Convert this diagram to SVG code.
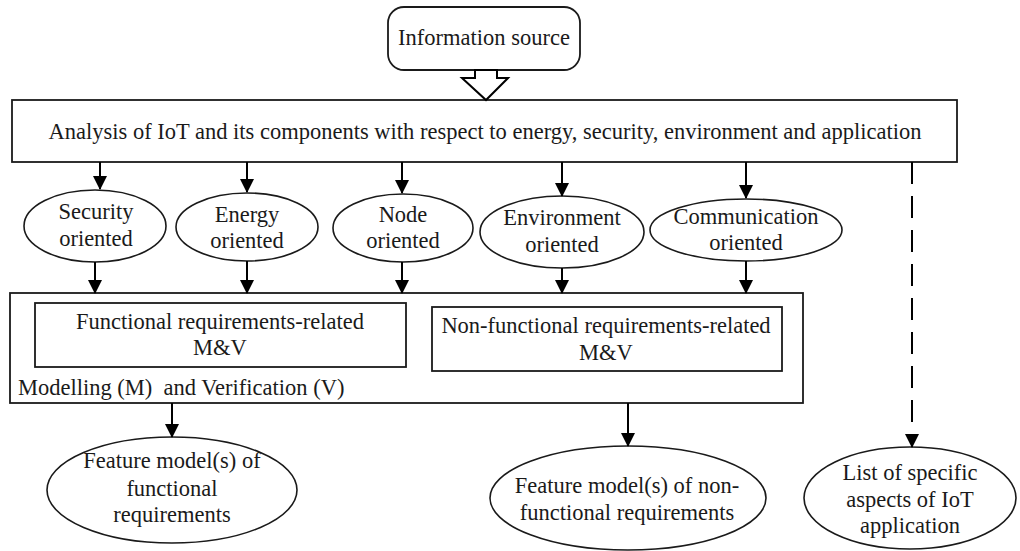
<svg xmlns="http://www.w3.org/2000/svg" width="1020" height="551" viewBox="0 0 1020 551">
  <defs>
    <style>
      .box { fill: #fff; stroke: #1a1a1a; stroke-width: 1.8; }
      .ell { fill: #fff; stroke: #1a1a1a; stroke-width: 1.6; }
      .t { font-family: "Liberation Serif", "Times New Roman", serif; font-size: 22.5px; fill: #1a1a1a; }
      .c { text-anchor: middle; }
      .pre { white-space: pre; }
      .link { stroke: #000; stroke-width: 2; fill: none; marker-end: url(#head); }
      .dash { stroke-dasharray: 22 12; }
    </style>
    <marker id="head" viewBox="0 0 14 14" refX="13" refY="7" markerWidth="14" markerHeight="14" markerUnits="userSpaceOnUse" orient="auto">
      <path d="M0,0 L14,7 L0,14 Z" fill="#000"/>
    </marker>
  </defs>
  <rect width="1020" height="551" fill="#fff"/>

  <g id="info-source">
    <rect class="box" x="388" y="7" width="192" height="63" rx="16" ry="16"/>
    <text class="t c" x="484" y="45">Information source</text>
  </g>

  <g id="analysis">
    <rect class="box" x="12" y="100" width="945" height="62"/>
    <text class="t c" x="485" y="139">Analysis of IoT and its components with respect to energy, security, environment and application</text>
  </g>

  <g id="security">
    <ellipse class="ell" cx="95" cy="226" rx="71" ry="36"/>
    <text class="t c" x="96" y="219">Security</text>
    <text class="t c" x="96" y="246">oriented</text>
  </g>
  <g id="energy">
    <ellipse class="ell" cx="247" cy="227" rx="71" ry="34"/>
    <text class="t c" x="247" y="222">Energy</text>
    <text class="t c" x="247" y="248">oriented</text>
  </g>
  <g id="node">
    <ellipse class="ell" cx="403" cy="228" rx="70" ry="34"/>
    <text class="t c" x="403" y="222">Node</text>
    <text class="t c" x="403" y="248">oriented</text>
  </g>
  <g id="environment">
    <ellipse class="ell" cx="562" cy="232" rx="82" ry="36"/>
    <text class="t c" x="562" y="225">Environment</text>
    <text class="t c" x="562" y="252">oriented</text>
  </g>
  <g id="communication">
    <ellipse class="ell" cx="746" cy="230" rx="96" ry="31"/>
    <text class="t c" x="746" y="224">Communication</text>
    <text class="t c" x="746" y="250">oriented</text>
  </g>

  <g id="modelling-verification">
    <rect class="box" x="10" y="293" width="793" height="110"/>
    <text class="t pre" x="18" y="395">Modelling (M)  and Verification (V)</text>
  </g>
  <g id="functional-mv">
    <rect class="box" x="35" y="303" width="371" height="64"/>
    <text class="t c" x="220" y="329">Functional requirements-related</text>
    <text class="t c" x="220" y="355">M&amp;V</text>
  </g>
  <g id="nonfunctional-mv">
    <rect class="box" x="432" y="307" width="350" height="64"/>
    <text class="t c" x="606" y="333">Non-functional requirements-related</text>
    <text class="t c" x="606" y="360">M&amp;V</text>
  </g>

  <g id="feature-functional">
    <ellipse class="ell" cx="172" cy="490" rx="125" ry="53"/>
    <text class="t c" x="172" y="468">Feature model(s) of</text>
    <text class="t c" x="172" y="496">functional</text>
    <text class="t c" x="172" y="522">requirements</text>
  </g>
  <g id="feature-nonfunctional">
    <ellipse class="ell" cx="628" cy="498" rx="138" ry="52"/>
    <text class="t c" x="627" y="493">Feature model(s) of non-</text>
    <text class="t c" x="627" y="520">functional requirements</text>
  </g>
  <g id="specific-aspects">
    <ellipse class="ell" cx="910" cy="498" rx="106" ry="51"/>
    <text class="t c" x="910" y="480">List of specific</text>
    <text class="t c" x="910" y="507">aspects of IoT</text>
    <text class="t c" x="910" y="533">application</text>
  </g>

  <g id="connectors">
    <!-- hollow block arrow from the source into the analysis box -->
    <path d="M475,70 L497,70 L497,78 L508,78 L486,100 L462,78 L475,78 Z" fill="#fff" stroke="#000" stroke-width="2" stroke-linejoin="miter"/>
    <!-- analysis to the five orientations -->
    <line class="link" x1="100" y1="162" x2="100" y2="189"/>
    <line class="link" x1="247" y1="162" x2="247" y2="192"/>
    <line class="link" x1="402" y1="162" x2="402" y2="193"/>
    <line class="link" x1="562" y1="162" x2="562" y2="196"/>
    <line class="link" x1="746" y1="162" x2="746" y2="198"/>
    <!-- orientations to modelling and verification -->
    <line class="link" x1="95" y1="262" x2="95" y2="293"/>
    <line class="link" x1="247" y1="261" x2="247" y2="293"/>
    <line class="link" x1="402" y1="262" x2="402" y2="293"/>
    <line class="link" x1="562" y1="268" x2="562" y2="293"/>
    <line class="link" x1="746" y1="261" x2="746" y2="293"/>
    <!-- modelling and verification to feature models -->
    <line class="link" x1="172" y1="403" x2="172" y2="437"/>
    <line class="link" x1="628" y1="403" x2="628" y2="446"/>
    <!-- analysis to application-specific aspects -->
    <line class="link dash" x1="912" y1="162" x2="912" y2="447"/>
  </g>
</svg>
